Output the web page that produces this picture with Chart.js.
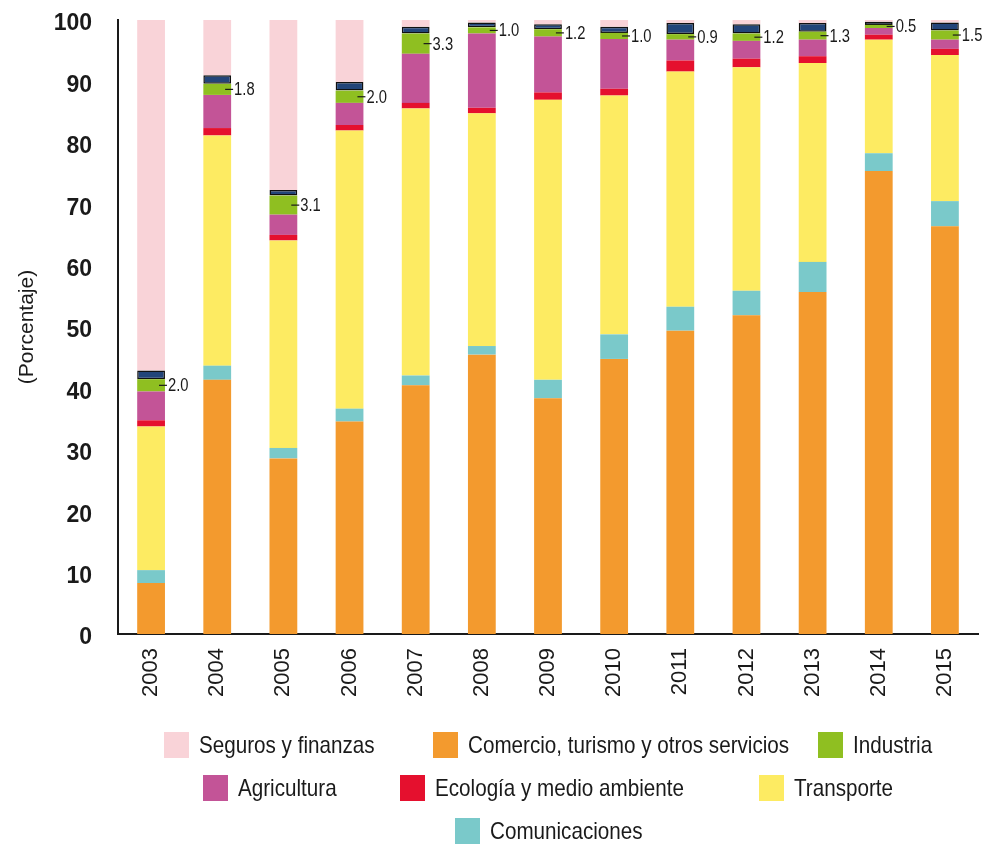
<!DOCTYPE html>
<html>
<head>
<meta charset="utf-8">
<script src="https://cdn.jsdelivr.net/npm/chart.js@4.4.1/dist/chart.umd.min.js"></script>
<style>
  html, body { margin: 0; padding: 0; background: #fff; }
  #wrap { position: relative; width: 983px; height: 847px; }
  #legend {
    position: absolute; left: 118px; top: 732px; width: 860px;
    font-family: 'Liberation Sans', sans-serif;
    font-size: 24px; color: #1a1a1a;
  }
  .row { display: flex; justify-content: center; height: 26px; margin-bottom: 17px; }
  .item { display: flex; align-items: center; white-space: nowrap; }
  .box { width: 25px; height: 26px; margin-right: 10px; flex: none; }
  .txt { display: inline-block; overflow: visible; height: 28px; line-height: 28px; }
  .txt span { display: inline-block; transform: scaleX(0.86); transform-origin: left center; }
</style>
</head>
<body>
<div id="wrap">
  <canvas id="chart" width="983" height="847"></canvas>
  <div id="legend"></div>
</div>
<script>
const years = ['2003', '2004', '2005', '2006', '2007', '2008', '2009', '2010', '2011', '2012', '2013', '2014', '2015'];

// de abajo hacia arriba en cada barra
const comercio       = [8.3, 41.4, 28.6, 34.6, 40.5, 45.5, 38.4, 44.8, 49.4, 51.9, 55.7, 75.4, 66.4];
const comunicaciones = [2.1, 2.3, 1.7, 2.1, 1.6, 1.4, 3.0, 4.0, 3.9, 4.0, 4.9, 2.9, 4.1];
const transporte     = [23.4, 37.5, 33.8, 45.3, 43.5, 37.9, 45.6, 38.9, 38.3, 36.4, 32.4, 18.5, 23.8];
const ecologia       = [1.0, 1.2, 0.9, 0.9, 0.9, 0.9, 1.2, 1.1, 1.8, 1.4, 1.1, 0.8, 1.0];
const agricultura    = [4.7, 5.4, 3.3, 3.6, 8.0, 12.1, 9.1, 8.1, 3.4, 2.9, 2.7, 1.1, 1.5];
const industria      = [2.0, 1.8, 3.1, 2.0, 3.3, 1.0, 1.2, 1.0, 0.9, 1.2, 1.3, 0.5, 1.5];
const otros          = [1.4, 1.4, 0.9, 1.4, 1.1, 0.8, 0.8, 1.0, 1.8, 1.5, 1.4, 0.5, 1.3];
const seguros        = [57.1, 9.0, 27.7, 10.1, 1.1, 0.4, 0.7, 1.1, 0.5, 0.7, 0.5, 0.3, 0.4];

const legendRows = [
  ['Seguros y finanzas', 'Comercio, turismo y otros servicios', 'Industria'],
  ['Agricultura', 'Ecología y medio ambiente', 'Transporte'],
  ['Comunicaciones']
];
// separación entre elementos de cada fila
const legendGaps = [[59, 29], [63, 75], []];

const sans = "'Liberation Sans', sans-serif";
const squeeze = 0.82;
const legendSqueeze = 0.86;

const datasets = [
  { label: 'Comercio, turismo y otros servicios', data: comercio, backgroundColor: '#F39A2E' },
  { label: 'Comunicaciones', data: comunicaciones, backgroundColor: '#7AC9CA' },
  { label: 'Transporte', data: transporte, backgroundColor: '#FDEB62' },
  { label: 'Ecología y medio ambiente', data: ecologia, backgroundColor: '#E5102E' },
  { label: 'Agricultura', data: agricultura, backgroundColor: '#C35497' },
  { label: 'Industria', data: industria, backgroundColor: '#8FBF21' },
  { label: 'Otros', data: otros, backgroundColor: '#234579', borderColor: '#111', borderWidth: 1.5, borderSkipped: false },
  { label: 'Seguros y finanzas', data: seguros, backgroundColor: '#F9D3D8' }
];

// etiquetas de Industria a la derecha de cada barra
const industriaLabels = {
  id: 'industriaLabels',
  afterDatasetsDraw(chart) {
    const idx = chart.data.datasets.findIndex(d => d.label === 'Industria');
    const meta = chart.getDatasetMeta(idx);
    const ctx = chart.ctx;
    meta.data.forEach((bar, i) => {
      const right = bar.x + bar.width / 2;
      const yc = (bar.y + bar.base) / 2;
      ctx.save();
      ctx.strokeStyle = '#1a1a1a';
      ctx.fillStyle = '#1a1a1a';
      ctx.lineWidth = 1.2;
      ctx.beginPath();
      ctx.moveTo(right - 6, yc);
      ctx.lineTo(right + 2, yc);
      ctx.stroke();
      ctx.translate(right + 3, yc + 1);
      ctx.scale(squeeze, 1);
      ctx.font = '18px ' + sans;
      ctx.textAlign = 'left';
      ctx.textBaseline = 'middle';
      ctx.fillText(industria[i].toFixed(1), 0, 0);
      ctx.restore();
    });
  }
};

new Chart(document.getElementById('chart'), {
  type: 'bar',
  data: { labels: years, datasets: datasets },
  options: {
    responsive: false,
    animation: false,
    layout: { padding: { top: 0, right: 0, bottom: 133, left: 0 } },
    datasets: { bar: { barPercentage: 0.42, categoryPercentage: 1 } },
    plugins: {
      legend: { display: false },
      tooltip: { enabled: false }
    },
    scales: {
      x: {
        stacked: true,
        grid: { display: false, drawTicks: false },
        border: { color: '#1a1a1a', width: 2 },
        ticks: {
          minRotation: 90, maxRotation: 90, padding: 14,
          color: '#1a1a1a',
          font: { family: sans, size: 22 }
        },
        afterFit: (scale) => {
          scale.height = 80;
          scale.paddingLeft = 0;
          scale.paddingRight = 5;
        }
      },
      y: {
        stacked: true,
        min: 0, max: 100,
        grid: { display: false, drawTicks: false },
        border: { color: '#1a1a1a', width: 2 },
        ticks: {
          stepSize: 10, padding: 26, labelOffset: 4,
          color: '#1a1a1a',
          font: { family: sans, size: 23, weight: 'bold' }
        },
        title: {
          display: true, text: '(Porcentaje)', color: '#1a1a1a',
          padding: { top: 15, bottom: 0 },
          font: { family: sans, size: 21 }
        },
        afterFit: (scale) => {
          scale.width = 118;
          scale.paddingTop = 20;
          scale.paddingBottom = 0;
        }
      }
    }
  },
  plugins: [industriaLabels]
});

// leyenda en HTML con las mismas filas que el original
const legendEl = document.getElementById('legend');
legendRows.forEach((row, r) => {
  const rowEl = document.createElement('div');
  rowEl.className = 'row';
  legendEl.appendChild(rowEl);
  row.forEach((name, k) => {
    const ds = datasets.find(d => d.label === name);
    const item = document.createElement('div');
    item.className = 'item';
    if (k > 0) item.style.marginLeft = legendGaps[r][k - 1] + 'px';
    const box = document.createElement('span');
    box.className = 'box';
    box.style.background = ds.backgroundColor;
    const txt = document.createElement('span');
    txt.className = 'txt';
    const inner = document.createElement('span');
    inner.textContent = name;
    txt.appendChild(inner);
    item.appendChild(box);
    item.appendChild(txt);
    rowEl.appendChild(item);
    txt.style.width = Math.round(inner.offsetWidth * legendSqueeze) + 'px';
  });
});
</script>
</body>
</html>
